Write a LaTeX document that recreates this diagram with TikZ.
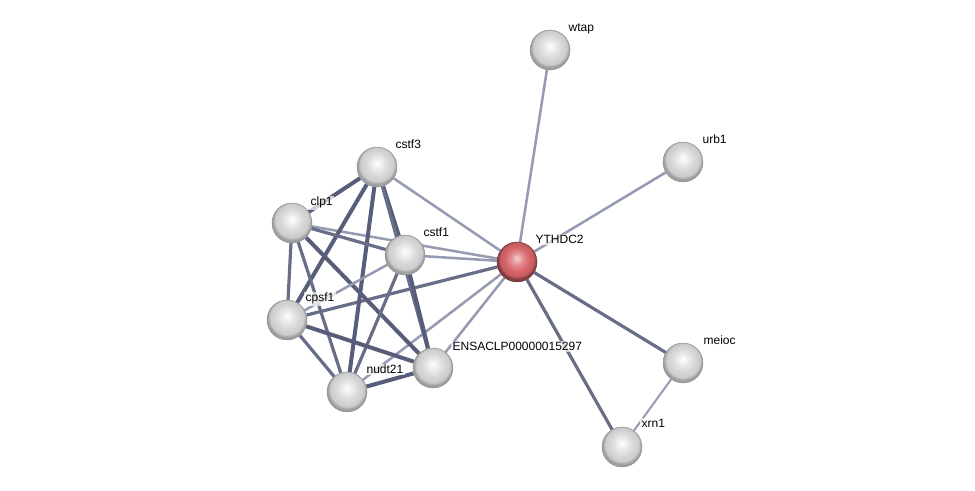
\documentclass[tikz,border=0pt]{standalone}
\usepackage{fontspec}
\setmainfont{Liberation Sans}
\usetikzlibrary{backgrounds}

\definecolor{edgelight}{RGB}{150,155,178}
\definecolor{edgedark}{RGB}{88,94,122}
\definecolor{ballred}{RGB}{215,100,105}

% glossy spheres
\pgfdeclareradialshading{greyball}{\pgfpoint{0bp}{5bp}}{color(0bp)=(white); color(7bp)=(white!92!black); color(15bp)=(white!84!black); color(21bp)=(white!80!black); color(24bp)=(white!62!black); color(50bp)=(white!62!black)}
\pgfdeclareradialshading{redball}{\pgfpoint{0bp}{5bp}}{color(0bp)=(ballred!30!white); color(7bp)=(ballred!70!white); color(15bp)=(ballred); color(21bp)=(ballred!92!black); color(24bp)=(ballred!60!black); color(50bp)=(ballred!60!black)}

\tikzset{
  protein/.style={circle, minimum size=30pt, inner sep=0pt, draw=white!55!black, line width=0.3pt, shading=greyball},
  query/.style={protein, draw=ballred!50!black, shading=redball},
  plabel/.style={anchor=base west, inner sep=1pt, fill=white, fill opacity=0.7, text opacity=1, font=\fontsize{9}{10}\selectfont},
  weak/.style={edgelight, line width=1.9pt},
  mid/.style={edgedark!75!edgelight, line width=2.4pt},
  strong/.style={edgedark, line width=3pt},
}

\begin{document}
\begin{tikzpicture}[x=0.75pt, y=-0.75pt]
\useasboundingbox (0, 0) rectangle (975, 491);

% proteins
\node [query] (ythdc2) at (517, 262) {};
\node [protein] (wtap) at (550, 50) {};
\node [protein] (urb1) at (683, 162) {};
\node [protein] (cstf3) at (377, 167) {};
\node [protein] (clp1) at (292, 223) {};
\node [protein] (cstf1) at (405, 255) {};
\node [protein] (cpsf1) at (287, 320) {};
\node [protein] (nudt21) at (347, 392) {};
\node [protein] (ensaclp) at (433, 368) {};
\node [protein] (meioc) at (683, 363) {};
\node [protein] (xrn1) at (622, 447) {};

% labels
\node [plabel] at (567, 32) {wtap};
\node [plabel] at (701, 144) {urb1};
\node [plabel] at (534, 244) {YTHDC2};
\node [plabel] at (394, 149) {cstf3};
\node [plabel] at (309, 206) {clp1};
\node [plabel] at (422, 237) {cstf1};
\node [plabel] at (304, 302) {cpsf1};
\node [plabel] at (365, 374) {nudt21};
\node [plabel] at (451, 351) {ENSACLP00000015297};
\node [plabel] at (702, 345) {meioc};
\node [plabel] at (640, 428) {xrn1};

\begin{pgfonlayer}{background}
% edges of the query protein
\foreach \p in {wtap, urb1, cstf3, clp1, cstf1, nudt21, ensaclp}
  \draw [weak] (ythdc2) -- (\p);
\draw [mid] (ythdc2) -- (cpsf1);
\draw [mid] (ythdc2) -- (meioc);
\draw [mid] (ythdc2) -- (xrn1);
\draw [weak, line width=1.5pt] (meioc) -- (xrn1);
% cleavage complex
\draw [strong] (cstf3) -- (clp1);
\draw [strong] (cstf3) -- (cstf1);
\draw [strong] (cstf3) -- (cpsf1);
\draw [strong] (cstf3) -- (nudt21);
\draw [mid] (cstf3) -- (ensaclp);
\draw [mid] (clp1) -- (cstf1);
\draw [mid] (clp1) -- (cpsf1);
\draw [mid] (clp1) -- (nudt21);
\draw [strong] (clp1) -- (ensaclp);
\draw [weak] (cstf1) -- (cpsf1);
\draw [mid] (cstf1) -- (nudt21);
\draw [strong] (cstf1) -- (ensaclp);
\draw [mid] (cpsf1) -- (nudt21);
\draw [strong] (cpsf1) -- (ensaclp);
\draw [strong] (nudt21) -- (ensaclp);
\end{pgfonlayer}
\end{tikzpicture}
\end{document}
